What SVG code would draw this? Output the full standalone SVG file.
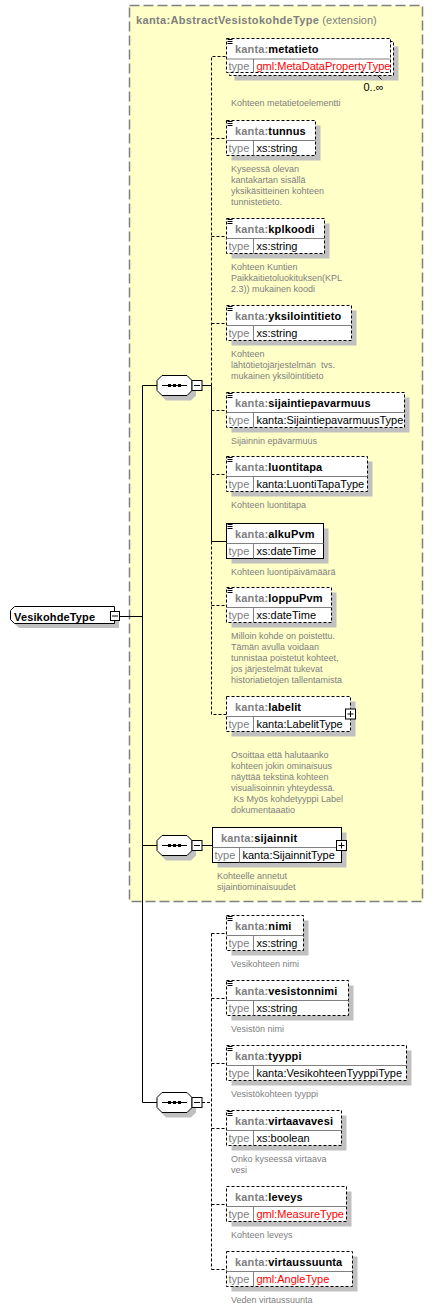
<svg xmlns="http://www.w3.org/2000/svg" width="435" height="1309" viewBox="0 0 435 1309">
<style>
.sh{fill:#c0c0c0}
.bx{fill:#fff;stroke:#000;stroke-width:1}
.opt{stroke-dasharray:3,2}
.dv{stroke:#808080;stroke-width:1}
.ic{stroke:#000;stroke-width:1;fill:none}
text{font-family:"Liberation Sans",Arial,sans-serif}
.h{font-size:11px;font-weight:bold;fill:#000;letter-spacing:0.15px}
.ns{fill:#808080}
.t{font-size:11px;fill:#000}
.tl{font-size:11px;fill:#808080}
.red{fill:#f00}
.d{font-size:9px;fill:#808080}
.ln{stroke:#000;stroke-width:1;fill:none}
.dl{stroke-dasharray:3,2}
.pm{fill:#fff;stroke:#000;stroke-width:1}
</style>
<defs>
<g id="seq">
<path class="sh" d="M9,-5 H34 L39,0 V10 L34,15 H9 L4,10 V0 Z"/>
<path class="bx" d="M5,-10 H30 L35,-5 V5 L30,10 H5 L0,5 V-5 Z"/>
<path class="ln" d="M5,0 H30"/>
<rect x="11" y="-1.5" width="3" height="3" fill="#000"/>
<rect x="16" y="-1.5" width="3" height="3" fill="#000"/>
<rect x="21" y="-1.5" width="3" height="3" fill="#000"/>
<rect class="pm" x="35" y="-5" width="10" height="10"/>
<path class="ln" d="M37,0 H43"/>
</g>
<path id="icon" class="ic" d="M1,1 H6 M1,3 H6 M1,5 H6"/>
<g id="plus">
<rect class="pm" x="0" y="0" width="10" height="10"/>
<path class="ln" d="M2,5 H8 M5,2 V8"/>
</g>
</defs>

<g id="ext">
<rect x="129.5" y="5.5" width="293" height="896" fill="#ffffc8" stroke="#808080" stroke-width="1.5" stroke-dasharray="10,4"/>
<text x="136" y="24" class="h"><tspan class="ns" letter-spacing="0.35px">kanta:AbstractVesistokohdeType</tspan><tspan font-weight="normal" fill="#808080" letter-spacing="0"> (extension)</tspan></text>
</g>

<g id="connectors">
<path class="ln" d="M119,616.5 H142.5 M142.5,385.5 V1102.5 M142.5,385.5 H157 M142.5,845.5 H157 M142.5,1102.5 H157"/>
<path class="ln" d="M202,385.5 H211.5 V541.5 H227 M202,845.5 H212.5"/>
<path class="ln dl" d="M211.5,385.5 V56.5 H227 M211.5,138.5 H227 M211.5,236.5 H227 M211.5,323.5 H227 M211.5,410.5 H227 M211.5,474.5 H227 M211.5,541.5 V714.5 H227 M211.5,605.5 H227"/>
<path class="ln dl" d="M202,1102.5 H211.5 M211.5,933.5 V1269.5 M211.5,933.5 H227 M211.5,998.5 H227 M211.5,1063.5 H227 M211.5,1128.5 H227 M211.5,1204.5 H227 M211.5,1269.5 H227"/>
</g>

<g id="VesikohdeType">
<path class="sh" d="M19,611 H119 V628 H19 L15,624 V615 Z"/>
<path class="bx" d="M14.5,606.5 H114.5 V623.5 H14.5 L10.5,619.5 V610.5 Z"/>
<text x="14" y="620.5" class="h" font-size="12px" letter-spacing="0">VesikohdeType</text>
<rect class="pm" x="110.5" y="611.5" width="9" height="9"/>
<path class="ln" d="M112,616 H118"/>
</g>

<g id="seq1"><use href="#seq" x="157" y="385.5"/></g>
<g id="seq2"><use href="#seq" x="157" y="845.5"/></g>
<g id="seq3"><use href="#seq" x="157" y="1102.5"/></g>

<g id="metatieto" transform="translate(226.5,38.5)">
<rect class="sh" x="8" y="8" width="164" height="34"/>
<rect class="bx opt" x="3" y="3" width="164" height="34"/>
<rect class="bx opt" x="0" y="0" width="164" height="34"/>
<path class="dv" d="M0,20.5 H164 M27,20.5 V34"/>
<use href="#icon"/>
<text x="8.5" y="14" class="h"><tspan class="ns">kanta:</tspan>metatieto</text>
<text x="2" y="31" class="tl">type</text>
<text x="30" y="31" class="t red">gml:MetaDataPropertyType</text>
<path class="ln" d="M151,37 L155,41"/>
<text x="137" y="52.5" class="t">0..∞</text>
<text x="4.5" y="67" class="d">Kohteen metatietoelementti</text>
</g>

<g id="tunnus" transform="translate(226.5,120.5)">
<rect class="sh" x="5" y="5" width="89" height="35"/>
<rect class="bx opt" x="0" y="0" width="89" height="35"/>
<path class="dv" d="M0,20 H89 M27,20 V35"/>
<use href="#icon"/>
<text x="8.5" y="14" class="h"><tspan class="ns">kanta:</tspan>tunnus</text>
<text x="2" y="31" class="tl">type</text>
<text x="30" y="31" class="t">xs:string</text>
<text x="4.5" y="51" class="d">Kyseessä olevan</text>
<text x="4.5" y="62" class="d">kantakartan sisällä</text>
<text x="4.5" y="73" class="d">yksikäsitteinen kohteen</text>
<text x="4.5" y="84" class="d">tunnistetieto.</text>
</g>

<g id="kplkoodi" transform="translate(226.5,218.5)">
<rect class="sh" x="5" y="5" width="98" height="35"/>
<rect class="bx opt" x="0" y="0" width="98" height="35"/>
<path class="dv" d="M0,20 H98 M27,20 V35"/>
<use href="#icon"/>
<text x="8.5" y="14" class="h"><tspan class="ns">kanta:</tspan>kplkoodi</text>
<text x="2" y="31" class="tl">type</text>
<text x="30" y="31" class="t">xs:string</text>
<text x="4.5" y="51" class="d">Kohteen Kuntien</text>
<text x="4.5" y="62" class="d">Paikkaitietoluokituksen(KPL</text>
<text x="4.5" y="73" class="d">2.3)) mukainen koodi</text>
</g>

<g id="yksilointitieto" transform="translate(226.5,305.5)">
<rect class="sh" x="5" y="5" width="125" height="35"/>
<rect class="bx opt" x="0" y="0" width="125" height="35"/>
<path class="dv" d="M0,20 H125 M27,20 V35"/>
<use href="#icon"/>
<text x="8.5" y="14" class="h"><tspan class="ns">kanta:</tspan>yksilointitieto</text>
<text x="2" y="31" class="tl">type</text>
<text x="30" y="31" class="t">xs:string</text>
<text x="4.5" y="51" class="d">Kohteen</text>
<text x="4.5" y="62" class="d" xml:space="preserve">lähtötietojärjestelmän  tvs.</text>
<text x="4.5" y="73" class="d">mukainen yksilöintitieto</text>
</g>

<g id="sijaintiepavarmuus" transform="translate(226.5,392.5)">
<rect class="sh" x="5" y="5" width="178" height="35"/>
<rect class="bx opt" x="0" y="0" width="178" height="35"/>
<path class="dv" d="M0,20 H178 M27,20 V35"/>
<use href="#icon"/>
<text x="8.5" y="14" class="h"><tspan class="ns">kanta:</tspan>sijaintiepavarmuus</text>
<text x="2" y="31" class="tl">type</text>
<text x="30" y="31" class="t">kanta:SijaintiepavarmuusType</text>
<text x="4.5" y="51" class="d">Sijainnin epävarmuus</text>
</g>

<g id="luontitapa" transform="translate(226.5,456.5)">
<rect class="sh" x="5" y="5" width="141" height="35"/>
<rect class="bx opt" x="0" y="0" width="141" height="35"/>
<path class="dv" d="M0,20 H141 M27,20 V35"/>
<use href="#icon"/>
<text x="8.5" y="14" class="h"><tspan class="ns">kanta:</tspan>luontitapa</text>
<text x="2" y="31" class="tl">type</text>
<text x="30" y="31" class="t">kanta:LuontiTapaType</text>
<text x="4.5" y="51" class="d">Kohteen luontitapa</text>
</g>

<g id="alkuPvm" transform="translate(226.5,523.5)">
<rect class="sh" x="5" y="5" width="97" height="35"/>
<rect class="bx" x="0" y="0" width="97" height="35"/>
<path class="dv" d="M0,20 H97 M27,20 V35"/>
<use href="#icon"/>
<text x="8.5" y="14" class="h"><tspan class="ns">kanta:</tspan>alkuPvm</text>
<text x="2" y="31" class="tl">type</text>
<text x="30" y="31" class="t">xs:dateTime</text>
<text x="4.5" y="51" class="d">Kohteen luontipäivämäärä</text>
</g>

<g id="loppuPvm" transform="translate(226.5,587.5)">
<rect class="sh" x="5" y="5" width="105" height="35"/>
<rect class="bx opt" x="0" y="0" width="105" height="35"/>
<path class="dv" d="M0,20 H105 M27,20 V35"/>
<use href="#icon"/>
<text x="8.5" y="14" class="h"><tspan class="ns">kanta:</tspan>loppuPvm</text>
<text x="2" y="31" class="tl">type</text>
<text x="30" y="31" class="t">xs:dateTime</text>
<text x="4.5" y="51" class="d">Milloin kohde on poistettu.</text>
<text x="4.5" y="62" class="d">Tämän avulla voidaan</text>
<text x="4.5" y="73" class="d">tunnistaa poistetut kohteet,</text>
<text x="4.5" y="84" class="d">jos järjestelmät tukevat</text>
<text x="4.5" y="95" class="d">historiatietojen tallentamista</text>
</g>

<g id="labelit" transform="translate(226.5,696.5)">
<rect class="sh" x="5" y="5" width="124" height="35"/>
<rect class="bx opt" x="0" y="0" width="124" height="35"/>
<path class="dv" d="M0,20 H124 M27,20 V35"/>
<text x="8.5" y="14" class="h"><tspan class="ns">kanta:</tspan>labelit</text>
<text x="2" y="31" class="tl">type</text>
<text x="30" y="31" class="t">kanta:LabelitType</text>
<use href="#plus" x="119" y="12.5"/>
<text x="4.5" y="61" class="d">Osoittaa että halutaanko</text>
<text x="4.5" y="72" class="d">kohteen jokin ominaisuus</text>
<text x="4.5" y="83" class="d">näyttää tekstinä kohteen</text>
<text x="4.5" y="94" class="d">visualisoinnin yhteydessä.</text>
<text x="4.5" y="105" class="d" xml:space="preserve"> Ks Myös kohdetyyppi Label</text>
<text x="4.5" y="116" class="d">dokumentaaatio</text>
</g>

<g id="sijainnit" transform="translate(212.5,827.5)">
<rect class="sh" x="5" y="5" width="129" height="35"/>
<rect class="bx" x="0" y="0" width="129" height="35"/>
<path class="dv" d="M0,20 H129 M27,20 V35"/>
<text x="8.5" y="14" class="h"><tspan class="ns">kanta:</tspan>sijainnit</text>
<text x="2" y="31" class="tl">type</text>
<text x="30" y="31" class="t">kanta:SijainnitType</text>
<use href="#plus" x="124" y="13"/>
<text x="4.5" y="51" class="d">Kohteelle annetut</text>
<text x="4.5" y="62" class="d">sijaintiominaisuudet</text>
</g>

<g id="nimi" transform="translate(226.5,915.5)">
<rect class="sh" x="5" y="5" width="77" height="35"/>
<rect class="bx opt" x="0" y="0" width="77" height="35"/>
<path class="dv" d="M0,20 H77 M27,20 V35"/>
<use href="#icon"/>
<text x="8.5" y="14" class="h"><tspan class="ns">kanta:</tspan>nimi</text>
<text x="2" y="31" class="tl">type</text>
<text x="30" y="31" class="t">xs:string</text>
<text x="4.5" y="51" class="d">Vesikohteen nimi</text>
</g>

<g id="vesistonnimi" transform="translate(226.5,980.5)">
<rect class="sh" x="5" y="5" width="122" height="35"/>
<rect class="bx opt" x="0" y="0" width="122" height="35"/>
<path class="dv" d="M0,20 H122 M27,20 V35"/>
<use href="#icon"/>
<text x="8.5" y="14" class="h"><tspan class="ns">kanta:</tspan>vesistonnimi</text>
<text x="2" y="31" class="tl">type</text>
<text x="30" y="31" class="t">xs:string</text>
<text x="4.5" y="51" class="d">Vesistön nimi</text>
</g>

<g id="tyyppi" transform="translate(226.5,1045.5)">
<rect class="sh" x="5" y="5" width="180" height="35"/>
<rect class="bx opt" x="0" y="0" width="180" height="35"/>
<path class="dv" d="M0,20 H180 M27,20 V35"/>
<use href="#icon"/>
<text x="8.5" y="14" class="h"><tspan class="ns">kanta:</tspan>tyyppi</text>
<text x="2" y="31" class="tl">type</text>
<text x="30" y="31" class="t">kanta:VesikohteenTyyppiType</text>
<text x="4.5" y="51" class="d">Vesistökohteen tyyppi</text>
</g>

<g id="virtaavavesi" transform="translate(226.5,1110.5)">
<rect class="sh" x="5" y="5" width="115" height="35"/>
<rect class="bx opt" x="0" y="0" width="115" height="35"/>
<path class="dv" d="M0,20 H115 M27,20 V35"/>
<use href="#icon"/>
<text x="8.5" y="14" class="h"><tspan class="ns">kanta:</tspan>virtaavavesi</text>
<text x="2" y="31" class="tl">type</text>
<text x="30" y="31" class="t">xs:boolean</text>
<text x="4.5" y="51" class="d">Onko kyseessä virtaava</text>
<text x="4.5" y="62" class="d">vesi</text>
</g>

<g id="leveys" transform="translate(226.5,1186.5)">
<rect class="sh" x="5" y="5" width="120" height="35"/>
<rect class="bx opt" x="0" y="0" width="120" height="35"/>
<path class="dv" d="M0,20 H120 M27,20 V35"/>
<text x="8.5" y="14" class="h"><tspan class="ns">kanta:</tspan>leveys</text>
<text x="2" y="31" class="tl">type</text>
<text x="30" y="31" class="t red">gml:MeasureType</text>
<text x="4.5" y="51" class="d">Kohteen leveys</text>
</g>

<g id="virtaussuunta" transform="translate(226.5,1251.5)">
<rect class="sh" x="5" y="5" width="126" height="35"/>
<rect class="bx opt" x="0" y="0" width="126" height="35"/>
<path class="dv" d="M0,20 H126 M27,20 V35"/>
<text x="8.5" y="14" class="h"><tspan class="ns">kanta:</tspan>virtaussuunta</text>
<text x="2" y="31" class="tl">type</text>
<text x="30" y="31" class="t red">gml:AngleType</text>
<text x="4.5" y="51" class="d">Veden virtaussuunta</text>
</g>
</svg>
